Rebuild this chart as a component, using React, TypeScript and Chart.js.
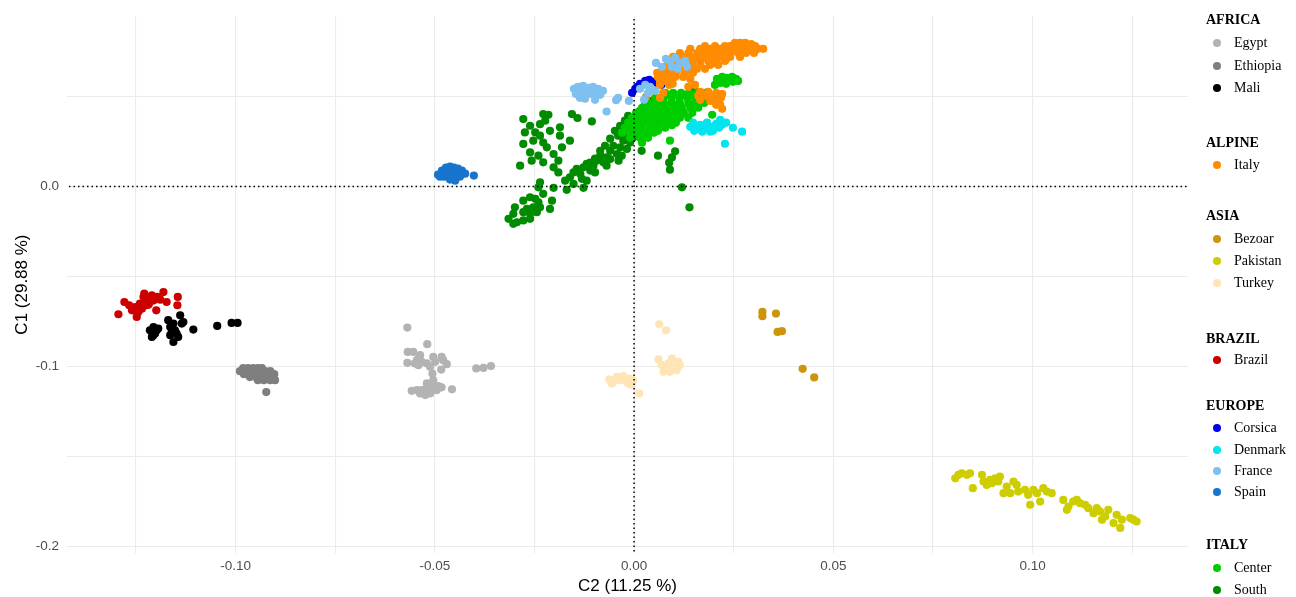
import React, { useEffect, useRef } from "react";
import { Chart, registerables } from "chart.js";

Chart.register(...registerables);

// ---------- data (C2, C1) ----------
const egypt = [
  [-0.0569, -0.0783], [-0.0519, -0.0875], [-0.0568, -0.0918], [-0.0554, -0.0918], [-0.0537, -0.0936],
  [-0.0569, -0.0979], [-0.0545, -0.0964], [-0.0541, -0.0992], [-0.0533, -0.0973], [-0.052, -0.0982],
  [-0.0504, -0.0946], [-0.0499, -0.0973], [-0.0483, -0.0946], [-0.0479, -0.0964], [-0.047, -0.0986],
  [-0.0512, -0.1001], [-0.0484, -0.1016], [-0.0506, -0.1038], [-0.0504, -0.1075], [-0.052, -0.1093],
  [-0.0558, -0.1134], [-0.0545, -0.113], [-0.0537, -0.1149], [-0.0529, -0.113], [-0.0516, -0.1121],
  [-0.0504, -0.1112], [-0.0495, -0.113], [-0.0483, -0.1115], [-0.0457, -0.1126], [-0.0524, -0.1158],
  [-0.0512, -0.1149], [-0.0396, -0.101], [-0.0378, -0.1007], [-0.0359, -0.0997], [-0.0533, -0.113],
  [-0.052, -0.114], [-0.0508, -0.1134], [-0.0491, -0.1108], [-0.0541, -0.0955], [-0.055, -0.0982],
];
const ethiopia = [
  [-0.0981, -0.1008], [-0.0969, -0.1008], [-0.0956, -0.1008], [-0.0944, -0.1008], [-0.0934, -0.1008],
  [-0.0989, -0.1025], [-0.0976, -0.1025], [-0.0964, -0.1025], [-0.0951, -0.1025], [-0.0939, -0.1025],
  [-0.0926, -0.1025], [-0.0913, -0.1025], [-0.0979, -0.1042], [-0.0966, -0.1042], [-0.0954, -0.1042],
  [-0.0941, -0.1042], [-0.0929, -0.1042], [-0.0916, -0.1042], [-0.0903, -0.1042], [-0.0964, -0.1058],
  [-0.0949, -0.1058], [-0.0934, -0.1058], [-0.0918, -0.1058], [-0.0906, -0.1058], [-0.0944, -0.1075],
  [-0.0929, -0.1075], [-0.0913, -0.1075], [-0.0901, -0.1075], [-0.0923, -0.1141],
];
const mali = [
  [-0.1215, -0.0798], [-0.121, -0.0835], [-0.1206, -0.078], [-0.1202, -0.0816], [-0.1198, -0.0798],
  [-0.1194, -0.0788], [-0.1206, -0.0825], [-0.1169, -0.0742], [-0.1164, -0.078], [-0.1164, -0.0825],
  [-0.116, -0.0807], [-0.1156, -0.0761], [-0.1152, -0.0798], [-0.1156, -0.0863], [-0.1148, -0.0816],
  [-0.1139, -0.0715], [-0.1135, -0.0761], [-0.1131, -0.0752], [-0.1144, -0.0835], [-0.1106, -0.0794],
  [-0.1046, -0.0774], [-0.101, -0.0757], [-0.0995, -0.0757],
];
const italyAlpine = [
  [0.0253, 0.0798], [0.0266, 0.0798], [0.0279, 0.0798],
  [0.0178, 0.0781], [0.0203, 0.0781], [0.0228, 0.0781], [0.0241, 0.0781], [0.0261, 0.0781], [0.0286, 0.0781], [0.0304, 0.0781],
  [0.0141, 0.0765], [0.0166, 0.0765], [0.0191, 0.0765], [0.0216, 0.0765], [0.0236, 0.0765], [0.0253, 0.0765],
  [0.0271, 0.0765], [0.0291, 0.0765], [0.0311, 0.0765], [0.0324, 0.0765],
  [0.0115, 0.0742], [0.0136, 0.0742], [0.0158, 0.0742], [0.0178, 0.0742], [0.0198, 0.0742], [0.0221, 0.0742],
  [0.0241, 0.0742], [0.0261, 0.0742], [0.0281, 0.0742], [0.0301, 0.0742],
  [0.0098, 0.072], [0.012, 0.072], [0.0141, 0.072], [0.0161, 0.072], [0.0181, 0.072], [0.0201, 0.072],
  [0.0221, 0.072], [0.0241, 0.072], [0.0266, 0.072],
  [0.0105, 0.0698], [0.0125, 0.0698], [0.0146, 0.0698], [0.0166, 0.0698], [0.0186, 0.0698], [0.0206, 0.0698], [0.0228, 0.0698],
  [0.0085, 0.0676], [0.0105, 0.0676], [0.0125, 0.0676], [0.0146, 0.0676], [0.0166, 0.0676], [0.0191, 0.0676], [0.0211, 0.0676],
  [0.0073, 0.0654], [0.0093, 0.0654], [0.0115, 0.0654], [0.0136, 0.0654], [0.0158, 0.0654], [0.0178, 0.0654],
  [0.0058, 0.0632], [0.0065, 0.0632], [0.0085, 0.0632], [0.0105, 0.0632], [0.0128, 0.0632], [0.0148, 0.0632],
  [0.006, 0.0609], [0.008, 0.0609], [0.0103, 0.0609], [0.0123, 0.0609], [0.0141, 0.0598],
  [0.0065, 0.0587], [0.0075, 0.0587], [0.0095, 0.0587], [0.0153, 0.0565],
  [0.0065, 0.0565], [0.0088, 0.0565], [0.0136, 0.0554],
  [0.0166, 0.0526], [0.0186, 0.0526], [0.0206, 0.0521], [0.0221, 0.0515],
  [0.0161, 0.0504], [0.0181, 0.0504], [0.0201, 0.0499], [0.0218, 0.0493],
  [0.0166, 0.0482], [0.0191, 0.0476], [0.0211, 0.0476], [0.0206, 0.0454], [0.0216, 0.0454], [0.0221, 0.0432],
  [0.003, 0.0499], [0.0065, 0.0493], [0.0073, 0.0521], [0.0097, 0.0571],
  [0.0213, 0.0752], [0.0246, 0.0752], [0.0276, 0.0752], [0.0231, 0.0709], [0.0196, 0.0687],
  [0.0153, 0.0709], [0.0113, 0.0665], [0.0141, 0.0643], [0.0096, 0.0621], [0.0294, 0.0792],
];
const bezoar = [
  [0.0322, -0.0696], [0.0322, -0.072], [0.0356, -0.0705], [0.036, -0.0807], [0.0371, -0.0803],
  [0.0423, -0.1012], [0.0452, -0.106],
];
const pakistan = [
  [0.0806, -0.162], [0.0814, -0.1601], [0.0822, -0.1592], [0.0835, -0.1601], [0.0843, -0.1592],
  [0.085, -0.1675], [0.0873, -0.1601], [0.0877, -0.1638], [0.0885, -0.1657], [0.0893, -0.1629],
  [0.0898, -0.1647], [0.0906, -0.162], [0.0914, -0.1638], [0.0918, -0.1611], [0.0927, -0.1703],
  [0.0935, -0.1666], [0.0944, -0.1703], [0.0952, -0.1638], [0.096, -0.1657], [0.0964, -0.1694],
  [0.0981, -0.1684], [0.0989, -0.1712], [0.0994, -0.1767], [0.1002, -0.1684], [0.1011, -0.1703],
  [0.1019, -0.1749], [0.1027, -0.1675], [0.1036, -0.1694], [0.1048, -0.1703], [0.1077, -0.174],
  [0.1086, -0.1795], [0.109, -0.1777], [0.1102, -0.1749], [0.1111, -0.174], [0.1119, -0.1758],
  [0.1132, -0.1767], [0.114, -0.1786], [0.1153, -0.1814], [0.1161, -0.1786], [0.1169, -0.1804],
  [0.1174, -0.185], [0.1182, -0.1832], [0.119, -0.1795], [0.1203, -0.1869], [0.1211, -0.1823],
  [0.122, -0.1896], [0.1224, -0.185], [0.1245, -0.1841], [0.1253, -0.185], [0.1261, -0.186],
];
const turkey = [
  [-0.0062, -0.1071], [-0.0052, -0.1084], [-0.0043, -0.1057], [-0.0035, -0.1075], [-0.0027, -0.1053],
  [-0.0018, -0.1084], [-0.001, -0.1066], [-0.0002, -0.1075], [-0.0006, -0.1102], [-0.0014, -0.1093],
  [-0.0056, -0.1093], [0.0013, -0.1149], [0.0063, -0.0765], [0.008, -0.0798], [0.0061, -0.096],
  [0.007, -0.0992], [0.0078, -0.101], [0.0086, -0.0982], [0.0095, -0.0955], [0.0099, -0.1001],
  [0.0107, -0.1019], [0.0115, -0.0992], [0.0111, -0.0973], [0.009, -0.1029], [0.0074, -0.1029],
  [0.0082, -0.1001],
];
const brazil = [
  [-0.1294, -0.0709], [-0.1279, -0.0641], [-0.1267, -0.0659], [-0.126, -0.0687], [-0.1252, -0.0669],
  [-0.1248, -0.0724], [-0.1244, -0.0696], [-0.124, -0.065], [-0.1235, -0.0678], [-0.1229, -0.0594],
  [-0.1227, -0.0632], [-0.1223, -0.0659], [-0.1219, -0.0622], [-0.1215, -0.0641], [-0.121, -0.0604],
  [-0.1206, -0.0632], [-0.1199, -0.0687], [-0.1196, -0.0613], [-0.1189, -0.0628], [-0.1181, -0.0586],
  [-0.1173, -0.0641], [-0.1145, -0.0613], [-0.1146, -0.0659], [-0.1231, -0.0612], [-0.1218, -0.0655],
  [-0.1202, -0.0618], [-0.1238, -0.0668],
];
const corsica = [
  [-0.0005, 0.0521], [0.0003, 0.0543], [0.0008, 0.0554], [0.0015, 0.0571], [0.0028, 0.0587],
  [0.0038, 0.0593], [0.0048, 0.0582], [0.0058, 0.0576], [0.0068, 0.0565],
];
const denmark = [
  [0.0141, 0.0332], [0.0148, 0.0355], [0.0158, 0.0321], [0.0166, 0.0343], [0.0176, 0.0321],
  [0.0183, 0.0355], [0.0191, 0.0332], [0.0198, 0.031], [0.0206, 0.0349], [0.0213, 0.0327],
  [0.0221, 0.0343], [0.0231, 0.0355], [0.0151, 0.031], [0.0171, 0.0305], [0.0191, 0.0305],
  [0.0248, 0.0327], [0.0271, 0.0305], [0.0228, 0.0238], [0.0216, 0.0371],
];
const france = [
  [-0.0151, 0.0543], [-0.0141, 0.0554], [-0.0128, 0.056], [-0.0115, 0.0548], [-0.0103, 0.0554],
  [-0.009, 0.0543], [-0.0078, 0.0532], [-0.0146, 0.0515], [-0.0133, 0.0521], [-0.012, 0.0526],
  [-0.0108, 0.0515], [-0.0095, 0.0521], [-0.0085, 0.051], [-0.0136, 0.0493], [-0.0123, 0.0488],
  [-0.0098, 0.0482], [-0.0069, 0.0417], [-0.0045, 0.048], [-0.004, 0.0493], [-0.0013, 0.0476],
  [0.0025, 0.0482], [0.0015, 0.0543], [0.0028, 0.0565], [0.004, 0.0554], [0.0053, 0.0532],
  [0.0035, 0.0521], [0.0055, 0.0687], [0.008, 0.0709], [0.009, 0.0698], [0.0103, 0.0715],
  [0.0115, 0.0687], [0.0128, 0.0698], [0.0095, 0.0665], [0.011, 0.0654], [0.0133, 0.0665],
  [0.007, 0.0665],
];
const spain = [
  [-0.0492, 0.0066], [-0.0482, 0.0089], [-0.0472, 0.0105], [-0.0462, 0.0111], [-0.0452, 0.0105],
  [-0.0442, 0.01], [-0.0432, 0.0089], [-0.0477, 0.0055], [-0.0467, 0.0072], [-0.0457, 0.0078],
  [-0.0447, 0.0066], [-0.0437, 0.0055], [-0.0462, 0.0039], [-0.0449, 0.0033], [-0.0424, 0.0072],
  [-0.0402, 0.0061], [-0.0487, 0.0055],
];
const italyCenter = [
  [0.0078, 0.0521], [0.0098, 0.0521], [0.0118, 0.0521], [0.0138, 0.0521], [0.0158, 0.0521], [0.0178, 0.0521],
  [0.0053, 0.0493], [0.0073, 0.0493], [0.0093, 0.0493], [0.0113, 0.0493], [0.0133, 0.0493], [0.0153, 0.0493], [0.0173, 0.0493],
  [0.0035, 0.0465], [0.0055, 0.0465], [0.0075, 0.0465], [0.0095, 0.0465], [0.0115, 0.0465], [0.0136, 0.0465], [0.0156, 0.0465], [0.0176, 0.0465],
  [0.002, 0.0438], [0.004, 0.0438], [0.006, 0.0438], [0.008, 0.0438], [0.01, 0.0438], [0.012, 0.0438], [0.0141, 0.0438], [0.0161, 0.0438],
  [0.0005, 0.041], [0.0025, 0.041], [0.0045, 0.041], [0.0065, 0.041], [0.0085, 0.041], [0.0105, 0.041], [0.0125, 0.041], [0.0146, 0.041],
  [-0.0005, 0.0382], [0.0015, 0.0382], [0.0035, 0.0382], [0.0055, 0.0382], [0.0075, 0.0382], [0.0095, 0.0382], [0.0115, 0.0382], [0.0136, 0.0382],
  [-0.0015, 0.0355], [0.0005, 0.0355], [0.0025, 0.0355], [0.0045, 0.0355], [0.0065, 0.0355], [0.0085, 0.0355], [0.0105, 0.0355],
  [-0.0023, 0.0327], [-0.0003, 0.0327], [0.0018, 0.0327], [0.0038, 0.0327], [0.0058, 0.0327], [0.0078, 0.0327],
  [-0.003, 0.0299], [-0.001, 0.0299], [0.001, 0.0299], [0.003, 0.0299], [0.005, 0.0299],
  [-0.001, 0.0271], [0.0015, 0.0271], [0.0035, 0.0271], [0.002, 0.0244],
  [0.009, 0.0255], [0.0196, 0.0399], [0.006, 0.031],
  [0.0208, 0.0598], [0.0221, 0.0609], [0.0233, 0.0604], [0.0246, 0.0609], [0.0256, 0.0598],
  [0.0216, 0.0576], [0.0231, 0.0571], [0.0248, 0.0582], [0.0261, 0.0587], [0.0203, 0.0565],
  [0.0088, 0.0507], [0.0128, 0.0507], [0.0168, 0.0507], [0.0065, 0.0452], [0.0105, 0.0452],
  [0.0146, 0.0452], [0.0035, 0.0396], [0.0075, 0.0396], [0.0115, 0.0396], [0.0015, 0.0341],
  [0.0055, 0.0341], [0.0095, 0.0341], [0.0, 0.0313], [0.004, 0.0313],
];
const italySouth = [
  [-0.0278, 0.0375], [-0.0228, 0.0403], [-0.0215, 0.0399], [-0.0223, 0.0366], [-0.0236, 0.0347],
  [-0.0261, 0.0338], [-0.0274, 0.0301], [-0.0248, 0.0301], [-0.0236, 0.0283], [-0.0211, 0.031],
  [-0.0186, 0.0329], [-0.0186, 0.0283], [-0.0253, 0.0255], [-0.0228, 0.0245], [-0.0278, 0.0237],
  [-0.0219, 0.0218], [-0.0261, 0.019], [-0.024, 0.0172], [-0.0202, 0.0181], [-0.019, 0.0144],
  [-0.0257, 0.0144], [-0.0228, 0.0135], [-0.0286, 0.0116], [-0.0202, 0.0107], [-0.019, 0.0079],
  [-0.0161, 0.0255], [-0.0156, 0.0403], [-0.0142, 0.0381], [-0.0106, 0.0362], [-0.0181, 0.0218],
  [-0.0236, 0.0024], [-0.024, -0.0004], [-0.0202, -0.0007], [-0.0169, -0.0018], [-0.0127, -0.0007],
  [-0.0278, -0.0078], [-0.0261, -0.0059], [-0.0248, -0.0068], [-0.024, -0.0087], [-0.0236, -0.0115],
  [-0.0253, -0.0115], [-0.0269, -0.0124], [-0.0278, -0.0142], [-0.0244, -0.0142], [-0.0261, -0.0151],
  [-0.0299, -0.0115], [-0.0303, -0.0151], [-0.0315, -0.0179], [-0.0294, -0.0198], [-0.0278, -0.0188],
  [-0.0261, -0.0179], [-0.0211, -0.0124], [-0.0206, -0.0078], [-0.0228, -0.004], [-0.0303, -0.0207],
  [-0.0173, 0.0033], [-0.0161, 0.0052], [-0.0152, 0.0079], [-0.0144, 0.0098], [-0.0135, 0.007],
  [-0.0127, 0.0107], [-0.0119, 0.0126], [-0.011, 0.0089], [-0.0102, 0.0116], [-0.0094, 0.0144],
  [-0.0085, 0.0172], [-0.0077, 0.0135], [-0.0069, 0.0162], [-0.006, 0.0199], [-0.0052, 0.0227],
  [-0.0043, 0.0181], [-0.0035, 0.0218], [-0.0027, 0.0255], [-0.0023, 0.0292], [-0.0018, 0.0209],
  [-0.001, 0.0245], [-0.0006, 0.031], [-0.0002, 0.0273], [0.0011, 0.0347], [0.0019, 0.0199],
  [0.0023, 0.0393], [0.004, 0.0421], [0.0057, 0.0439], [-0.0039, 0.0144], [-0.0069, 0.0116],
  [-0.0098, 0.0079], [-0.0119, 0.0033], [-0.0152, 0.0015], [-0.0131, 0.0043], [-0.006, 0.0153],
  [-0.0031, 0.0172], [-0.001, 0.0347],
  [0.012, -0.0004], [0.0139, -0.0115], [0.009, 0.0094], [0.0088, 0.0133], [0.0095, 0.0162],
  [0.0103, 0.0196], [0.006, 0.0172],
  [0.0028, 0.0465], [0.0045, 0.0476], [0.006, 0.0488], [0.0073, 0.0465], [0.0035, 0.0432],
  [0.0055, 0.0443], [0.0015, 0.0421], [0.0005, 0.0393], [0.0065, 0.0432], [0.0151, 0.0537],
  [-0.0048, 0.031], [-0.0035, 0.0338], [-0.006, 0.0266], [-0.0073, 0.0227], [-0.0085, 0.0199],
  [-0.0098, 0.0155], [-0.011, 0.0133], [-0.0023, 0.0366], [-0.004, 0.0283], [-0.0015, 0.0393],
];

// ---------- axes ----------
const xTickValues = [-0.125, -0.1, -0.075, -0.05, -0.025, 0, 0.025, 0.05, 0.075, 0.1, 0.125];
const xTickLabels = ["", "-0.10", "", "-0.05", "", "0.00", "", "0.05", "", "0.10", ""];
const yTickValues = [-0.2, -0.15, -0.1, -0.05, 0, 0.05];
const yTickLabels = ["-0.2", "", "-0.1", "", "0.0", ""];
const xTitle = "C2 (11.25 %)";
const yTitle = "C1 (29.88 %)";

// ---------- groups / legend ----------
const groupTitles = ["AFRICA", "ALPINE", "ASIA", "BRAZIL", "EUROPE", "ITALY"];
const seriesNames = [
  ["Egypt", "Ethiopia", "Mali"],
  ["Italy"],
  ["Bezoar", "Pakistan", "Turkey"],
  ["Brazil"],
  ["Corsica", "Denmark", "France", "Spain"],
  ["Center", "South"],
];
const seriesData = [
  [egypt, ethiopia, mali],
  [italyAlpine],
  [bezoar, pakistan, turkey],
  [brazil],
  [corsica, denmark, france, spain],
  [italyCenter, italySouth],
];
const seriesColors = [
  ["#b3b3b3", "#7f7f7f", "#000000"],
  ["#ff8c00"],
  ["#cd950c", "#cdcd00", "#ffe4b5"],
  ["#cd0000"],
  ["#0000ee", "#00e5ee", "#7ec0ee", "#1874cd"],
  ["#00cd00", "#008b00"],
];
// draw order: lower = on top
const seriesOrder = [
  [2, 2, 2],
  [6],
  [2, 2, 2],
  [2],
  [8, 5, 5, 2],
  [9, 10],
];

// legend layout (pixels)
const legendHeaderY = [20, 143, 216, 339, 406, 545];
const legendItemY = [[43, 66, 88], [165], [239, 261, 283], [360], [428, 450, 471, 492], [568, 590]];
const legendHeaderX = 1206;
const legendDotX = 1217;
const legendTextX = 1234;

const groupLegendPlugin = {
  id: "groupLegend",
  afterDraw(chart: any) {
    const ctx = chart.ctx;
    ctx.save();
    ctx.textBaseline = "middle";
    ctx.textAlign = "left";
    groupTitles.forEach((title, gi) => {
      ctx.fillStyle = "#000";
      ctx.font = "bold 14px 'Liberation Serif', 'Times New Roman', serif";
      ctx.fillText(title, legendHeaderX, legendHeaderY[gi]);
      seriesNames[gi].forEach((name, si) => {
        const y = legendItemY[gi][si];
        ctx.beginPath();
        ctx.fillStyle = seriesColors[gi][si];
        ctx.arc(legendDotX, y, 4, 0, Math.PI * 2);
        ctx.fill();
        ctx.fillStyle = "#000";
        ctx.font = "14px 'Liberation Serif', 'Times New Roman', serif";
        ctx.fillText(name, legendTextX, y);
      });
    });
    ctx.restore();
  },
};

export default function App() {
  const ref = useRef<HTMLCanvasElement | null>(null);

  useEffect(() => {
    document.body.style.margin = "0";
    const canvas = ref.current;
    if (!canvas) return;

    const datasets: any[] = [];
    seriesNames.forEach((names, gi) => {
      names.forEach((name, si) => {
        const color = seriesColors[gi][si];
        datasets.push({
          type: "scatter",
          label: name,
          data: seriesData[gi][si].map((p) => ({ x: p[0], y: p[1] })),
          backgroundColor: color,
          borderColor: color,
          pointRadius: 4.1,
          pointBorderWidth: 0,
          pointHoverRadius: 4.1,
          order: seriesOrder[gi][si],
        });
      });
    });
    const dotted = {
      type: "line",
      borderColor: "#000",
      borderWidth: 1.5,
      borderDash: [1.5, 3],
      pointRadius: 0,
      fill: false,
      order: 0,
    };
    datasets.push({ ...dotted, label: "h0", data: [{ x: -1, y: 0 }, { x: 1, y: 0 }] });
    datasets.push({ ...dotted, label: "v0", data: [{ x: 0, y: -1 }, { x: 0, y: 1 }] });

    const tickFont = { family: "'Liberation Sans', Arial, sans-serif", size: 13.5 };
    const titleFont = { family: "'Liberation Sans', Arial, sans-serif", size: 17 };

    const chart = new Chart(canvas, {
      type: "scatter",
      data: { datasets },
      plugins: [groupLegendPlugin],
      options: {
        animation: false,
        responsive: false,
        devicePixelRatio: 1,
        layout: { padding: { left: 0, right: 108, top: 15, bottom: 0 } },
        plugins: { legend: { display: false }, tooltip: { enabled: false } },
        scales: {
          x: {
            type: "linear",
            min: -0.1423,
            max: 0.139,
            afterBuildTicks: (scale: any) => {
              scale.ticks = xTickValues.map((v) => ({ value: v }));
            },
            afterFit: (scale: any) => {
              scale.height = 44;
            },
            ticks: {
              autoSkip: false,
              maxRotation: 0,
              padding: 5,
              color: "#4d4d4d",
              font: tickFont,
              callback: (value: any) => {
                const i = xTickValues.findIndex((v) => Math.abs(v - Number(value)) < 1e-9);
                return i >= 0 ? xTickLabels[i] : "";
              },
            },
            grid: { color: "#ebebeb", lineWidth: 1.1, drawTicks: false },
            border: { display: false },
            title: { display: true, text: xTitle, color: "#000", font: titleFont, padding: { top: 0, bottom: 0 } },
          },
          y: {
            type: "linear",
            min: -0.2035,
            max: 0.0947,
            afterBuildTicks: (scale: any) => {
              scale.ticks = yTickValues.map((v) => ({ value: v }));
            },
            afterFit: (scale: any) => {
              scale.width = 67;
            },
            ticks: {
              autoSkip: false,
              padding: 8,
              color: "#4d4d4d",
              font: tickFont,
              callback: (value: any) => {
                const i = yTickValues.findIndex((v) => Math.abs(v - Number(value)) < 1e-9);
                return i >= 0 ? yTickLabels[i] : "";
              },
            },
            grid: { color: "#ebebeb", lineWidth: 1.1, drawTicks: false },
            border: { display: false },
            title: { display: true, text: yTitle, color: "#000", font: titleFont, padding: { top: 12, bottom: 0 } },
          },
        },
      } as any,
    });
    return () => chart.destroy();
  }, []);

  return (
    <div style={{ width: 1296, height: 597, background: "#fff" }}>
      <canvas ref={ref} width={1296} height={597} style={{ display: "block" }} />
    </div>
  );
}
